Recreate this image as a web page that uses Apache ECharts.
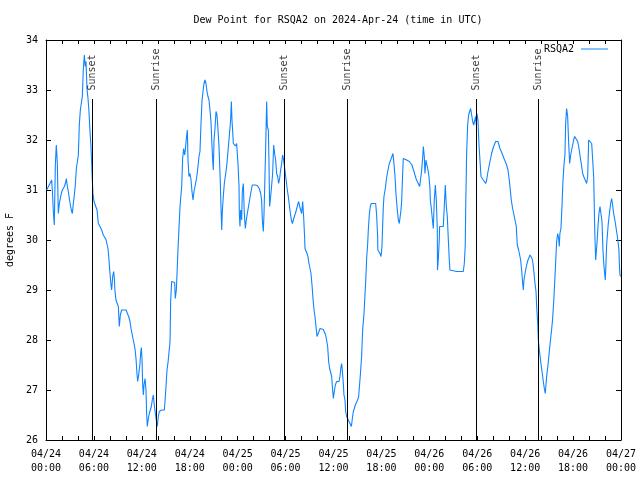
<!DOCTYPE html>
<html>
<head>
<meta charset="utf-8">
<script src="https://cdn.jsdelivr.net/npm/echarts@6/dist/echarts.min.js"></script>
<style>html,body{margin:0;padding:0;background:#fff}#c{width:640px;height:480px}</style>
</head>
<body>
<div id="c"></div>
<script>
// Hours since 2024-04-24 00:00 UTC, dew point in degrees F
const dewPoint = [
[0.08,31.00],[0.29,31.03],[0.50,31.13],[0.71,31.20],[0.79,31.00],[0.92,30.57],[1.04,30.30],[1.17,31.50],[1.29,31.90],[1.42,31.53],
[1.54,30.53],[1.67,30.73],[1.79,30.83],[1.92,30.93],[2.05,31.00],[2.17,31.00],[2.30,31.07],[2.42,31.13],[2.55,31.23],[2.67,31.07],
[2.80,30.97],[2.92,30.83],[3.05,30.70],[3.17,30.60],[3.30,30.53],[3.42,30.73],[3.55,30.90],[3.67,31.10],[3.80,31.43],[3.92,31.47],
[4.05,31.70],[4.17,32.30],[4.30,32.60],[4.42,32.60],[4.55,32.87],[4.67,33.40],[4.80,33.70],[4.92,33.47],[5.01,33.57],[5.13,33.03],
[5.26,32.83],[5.38,32.57],[5.51,32.17],[5.63,31.87],[5.72,31.53],[5.80,31.20],[5.88,30.93],[6.01,30.77],[6.22,30.77],[6.39,30.60],
[6.55,30.33],[6.76,30.27],[6.97,30.20],[7.18,30.10],[7.51,30.01],[7.64,29.97],[7.76,29.83],[7.89,29.60],[8.01,29.33],[8.14,29.10],
[8.22,29.00],[8.35,29.27],[8.47,29.37],[8.56,29.23],[8.64,28.97],[8.76,28.80],[8.93,28.80],[9.06,28.67],[9.14,28.40],[9.18,28.27],
[9.31,28.50],[9.47,28.60],[9.68,28.60],[10.02,28.60],[10.18,28.57],[10.35,28.47],[10.52,28.37],[10.64,28.23],[10.77,28.13],[10.89,28.03],
[11.02,27.93],[11.14,27.83],[11.27,27.63],[11.39,27.33],[11.48,27.17],[11.60,27.30],[11.77,27.53],[11.85,27.73],[11.94,27.85],[12.02,27.63],
[12.10,27.13],[12.19,26.90],[12.27,27.10],[12.40,27.23],[12.52,27.00],[12.60,26.53],[12.69,26.27],[12.81,26.43],[12.94,26.53],[13.06,26.57],
[13.19,26.67],[13.31,26.80],[13.44,26.90],[13.56,26.70],[13.69,26.53],[13.81,26.40],[13.94,26.27],[14.06,26.47],[14.19,26.57],[14.48,26.60],
[14.82,26.60],[14.90,26.77],[15.03,27.07],[15.15,27.40],[15.28,27.55],[15.44,27.55],[15.53,27.97],[15.61,28.77],[15.73,29.17],[15.94,29.17],
[16.11,29.15],[16.19,28.83],[16.32,29.00],[16.40,29.30],[16.49,29.67],[16.61,30.10],[16.78,30.67],[16.99,31.07],[17.11,31.63],[17.24,31.83],
[17.36,31.70],[17.45,31.80],[17.57,32.03],[17.70,32.20],[17.78,31.60],[17.90,31.27],[18.03,31.33],[18.16,31.20],[18.28,30.97],[18.41,30.80],
[18.53,30.97],[18.66,31.07],[18.78,31.17],[18.91,31.30],[19.03,31.47],[19.16,31.67],[19.28,31.77],[19.41,32.33],[19.53,32.77],[19.66,32.97],
[19.78,33.13],[19.91,33.20],[20.03,33.13],[20.16,32.97],[20.28,32.87],[20.41,32.80],[20.53,32.60],[20.66,32.37],[20.78,31.90],[20.87,31.60],
[20.95,31.40],[21.04,32.00],[21.16,32.23],[21.29,32.57],[21.41,32.50],[21.54,32.20],[21.66,31.87],[21.79,31.33],[21.91,30.67],[22.00,30.20],
[22.08,30.57],[22.20,30.87],[22.33,31.13],[22.45,31.13],[22.62,31.47],[22.75,31.70],[22.87,31.73],[23.00,32.17],[23.12,32.40],[23.21,32.77],
[23.29,32.40],[23.46,31.93],[23.58,31.90],[23.71,31.88],[23.87,31.93],[23.96,31.97],[24.04,31.53],[24.17,31.07],[24.21,30.53],[24.29,30.27],
[24.37,30.60],[24.50,30.40],[24.58,30.97],[24.71,31.13],[24.83,30.53],[24.96,30.23],[25.08,30.40],[25.21,30.53],[25.42,30.73],[25.63,30.93],
[25.83,31.10],[26.17,31.10],[26.46,31.09],[26.71,31.03],[26.88,30.93],[27.00,30.80],[27.09,30.40],[27.21,30.17],[27.30,30.53],[27.42,31.30],
[27.50,31.80],[27.63,32.77],[27.71,32.27],[27.84,32.20],[27.92,31.57],[28.00,30.67],[28.13,30.87],[28.26,31.10],[28.38,31.33],[28.51,31.90],
[28.63,31.73],[28.76,31.60],[28.88,31.33],[29.01,31.27],[29.13,31.13],[29.26,31.23],[29.38,31.40],[29.51,31.53],[29.63,31.70],[29.76,31.60],
[29.84,31.50],[29.97,31.33],[30.09,31.17],[30.22,31.00],[30.34,30.87],[30.47,30.70],[30.60,30.53],[30.72,30.40],[30.85,30.33],[30.97,30.37],
[31.10,30.47],[31.22,30.53],[31.35,30.60],[31.51,30.70],[31.64,30.77],[31.76,30.67],[31.89,30.60],[32.01,30.53],[32.14,30.77],[32.26,30.47],
[32.39,30.03],[32.43,29.83],[32.55,29.80],[32.68,29.73],[32.80,29.67],[32.93,29.53],[33.06,29.43],[33.18,29.33],[33.31,29.10],[33.43,28.83],
[33.56,28.60],[33.68,28.47],[33.81,28.27],[33.93,28.07],[34.06,28.10],[34.18,28.17],[34.31,28.23],[34.56,28.25],[34.72,28.21],[34.85,28.17],
[35.02,28.10],[35.14,28.07],[35.27,27.87],[35.39,27.57],[35.52,27.43],[35.64,27.43],[35.77,27.27],[35.89,27.00],[35.98,26.83],[36.10,26.97],
[36.23,27.10],[36.39,27.17],[36.69,27.17],[36.81,27.27],[36.94,27.47],[37.02,27.53],[37.10,27.40],[37.23,27.13],[37.31,26.90],[37.44,26.80],
[37.52,26.57],[37.65,26.47],[37.77,26.43],[37.94,26.37],[38.11,26.33],[38.24,26.27],[38.36,26.43],[38.48,26.57],[38.61,26.63],[38.73,26.70],
[38.86,26.73],[39.02,26.80],[39.15,26.87],[39.27,26.90],[39.36,27.30],[39.52,27.67],[39.65,28.20],[39.82,28.53],[39.94,28.90],[40.07,29.30],
[40.15,29.63],[40.28,29.93],[40.36,30.20],[40.48,30.50],[40.61,30.67],[40.73,30.73],[40.90,30.73],[41.28,30.73],[41.40,30.50],[41.53,30.07],
[41.55,29.80],[41.82,29.73],[41.95,29.67],[42.07,29.87],[42.15,30.27],[42.24,30.67],[42.32,30.87],[42.49,31.03],[42.61,31.20],[42.74,31.33],
[42.86,31.43],[42.99,31.53],[43.16,31.60],[43.32,31.67],[43.45,31.73],[43.57,31.53],[43.70,31.27],[43.82,30.93],[43.99,30.60],[44.12,30.40],
[44.24,30.33],[44.37,30.33],[44.45,30.60],[44.54,30.80],[44.66,31.33],[44.74,31.63],[44.95,31.63],[45.16,31.60],[45.49,31.57],[45.70,31.53],
[45.83,31.50],[45.95,31.43],[46.08,31.37],[46.20,31.30],[46.33,31.23],[46.49,31.17],[46.66,31.13],[46.79,31.07],[46.91,31.03],[47.04,31.40],
[47.16,31.63],[47.25,31.87],[47.37,31.67],[47.45,31.33],[47.58,31.60],[47.70,31.63],[47.83,31.40],[47.95,31.27],[48.08,31.03],[48.12,30.80],
[48.25,30.63],[48.37,30.43],[48.50,30.23],[48.62,30.80],[48.75,31.10],[48.87,30.80],[49.00,30.20],[49.02,29.40],[49.12,29.60],[49.25,30.03],
[49.29,30.27],[49.75,30.27],[49.87,30.67],[50.00,31.10],[50.13,30.67],[50.25,30.47],[50.38,30.00],[50.50,29.60],[50.58,29.40],[50.79,29.37],
[51.42,29.37],[52.25,29.37],[52.38,29.53],[52.50,29.90],[52.55,30.60],[52.67,31.73],[52.80,32.30],[52.92,32.50],[53.05,32.57],[53.17,32.63],
[53.30,32.50],[53.43,32.37],[53.55,32.30],[53.68,32.33],[53.80,32.47],[53.88,32.30],[53.97,32.53],[54.09,32.40],[54.22,31.90],[54.34,31.60],
[54.47,31.27],[54.59,31.23],[54.76,31.20],[54.93,31.17],[55.05,31.13],[55.18,31.20],[55.30,31.33],[55.47,31.47],[55.63,31.60],[55.80,31.73],
[55.97,31.83],[56.13,31.90],[56.30,31.97],[56.47,32.00],[56.59,31.97],[56.72,31.90],[56.84,31.83],[57.01,31.77],[57.18,31.70],[57.35,31.63],
[57.51,31.57],[57.68,31.50],[57.85,31.40],[58.01,31.20],[58.14,31.00],[58.26,30.80],[58.43,30.63],[58.60,30.50],[58.76,30.50],[58.89,30.27],
[59.01,29.90],[59.18,29.80],[59.31,29.70],[59.43,29.60],[59.56,29.40],[59.69,29.13],[59.77,29.00],[59.85,29.20],[59.98,29.33],[60.10,29.43],
[60.23,29.53],[60.35,29.60],[60.48,29.65],[60.61,29.70],[60.73,29.72],[60.86,29.63],[60.98,29.53],[61.11,29.33],[61.23,29.13],[61.36,28.97],
[61.44,28.67],[61.57,28.33],[61.65,28.00],[61.77,27.80],[61.90,27.63],[62.02,27.47],[62.15,27.33],[62.27,27.17],[62.40,27.03],[62.52,26.93],
[62.60,27.10],[62.69,27.27],[62.81,27.43],[62.94,27.63],[63.06,27.83],[63.19,28.03],[63.31,28.20],[63.44,28.43],[63.56,28.73],[63.69,29.13],
[63.81,29.53],[63.94,29.97],[64.07,30.13],[64.19,30.03],[64.27,29.87],[64.35,30.13],[64.48,30.23],[64.61,30.67],[64.73,31.17],[64.86,31.50],
[64.98,31.70],[65.07,32.33],[65.19,32.63],[65.32,32.47],[65.45,31.93],[65.57,31.53],[65.70,31.70],[65.82,31.80],[65.95,31.90],[66.07,32.00],
[66.20,32.07],[66.32,32.10],[66.45,32.03],[66.58,31.97],[66.70,31.87],[66.83,31.73],[66.95,31.60],[67.08,31.47],[67.20,31.33],[67.33,31.27],
[67.45,31.27],[67.58,31.23],[67.70,31.13],[67.83,31.27],[67.95,32.00],[68.08,32.03],[68.20,31.97],[68.33,31.93],[68.45,31.90],[68.58,31.27],
[68.71,30.20],[68.83,29.60],[68.91,29.77],[68.99,29.93],[69.12,30.27],[69.24,30.53],[69.37,30.67],[69.49,30.67],[69.62,30.37],[69.74,29.80],
[69.87,29.47],[69.95,29.33],[70.03,29.20],[70.12,29.53],[70.20,29.90],[70.28,30.07],[70.41,30.33],[70.53,30.50],[70.70,30.73],[70.83,30.83],
[70.95,30.70],[71.08,30.53],[71.20,30.43],[71.33,30.30],[71.45,30.17],[71.58,30.03],[71.74,29.80],[71.79,29.53],[71.87,29.30],[71.99,29.27]
];
const xTickLabels = ['04/24\n00:00','04/24\n06:00','04/24\n12:00','04/24\n18:00','04/25\n00:00','04/25\n06:00','04/25\n12:00',
  '04/25\n18:00','04/26\n00:00','04/26\n06:00','04/26\n12:00','04/26\n18:00','04/27\n00:00'];
const sunEventNames = ['Sunset','Sunrise','Sunset','Sunrise','Sunset','Sunrise'];
const sunEventHours = [5.80, 13.81, 29.84, 37.73, 53.89, 61.65];
const sunLineTop = 32.82;
const sunLabelBase = 32.97;

const FONT = 'DejaVu Sans Mono';
const chart = echarts.init(document.getElementById('c'), null, {renderer: 'canvas'});
const axCommon = {
  min: 0, max: 72, interval: 2, type: 'value'
};
chart.setOption({
  animation: false,
  backgroundColor: '#ffffff',
  textStyle: {fontFamily: FONT},
  title: {
    text: 'Dew Point for RSQA2 on 2024-Apr-24 (time in UTC)',
    left: 333, top: 10, textAlign: 'center',
    textStyle: {fontFamily: FONT, fontSize: 10, fontWeight: 'normal', color: '#000'}
  },
  legend: {
    right: 32, top: 44, align: 'right', itemGap: 0, padding: 0,
    itemWidth: 27, itemHeight: 1,
    data: [{name: 'RSQA2', icon: 'rect'}],
    textStyle: {fontFamily: FONT, fontSize: 10, color: '#000', padding: [0, 2, 0, 0]}
  },
  grid: {left: 46, right: 19, top: 40, bottom: 40, containLabel: false, outerBoundsMode: 'none'},
  xAxis: [
    Object.assign({}, axCommon, {
      position: 'bottom',
      axisLine: {show: true, onZero: false, lineStyle: {color: '#000', width: 1}},
      axisTick: {show: true, inside: true, length: 4, lineStyle: {color: '#000'}},
      axisLabel: {
        color: '#000', fontFamily: FONT, fontSize: 10, lineHeight: 14, margin: 7,
        formatter: function (v) { return v % 6 === 0 ? xTickLabels[v / 6] : ''; }
      },
      splitLine: {show: false}
    }),
    Object.assign({}, axCommon, {
      position: 'top',
      axisLine: {show: true, onZero: false, lineStyle: {color: '#000', width: 1}},
      axisTick: {show: true, inside: true, length: 4, lineStyle: {color: '#000'}},
      axisLabel: {show: false},
      splitLine: {show: false}
    })
  ],
  yAxis: [
    {
      type: 'value', min: 26, max: 34, interval: 1, position: 'left',
      name: 'degrees F', nameLocation: 'middle', nameGap: 31, nameRotate: 90,
      nameTextStyle: {fontFamily: FONT, fontSize: 10, color: '#000'},
      axisLine: {show: true, onZero: false, lineStyle: {color: '#000', width: 1}},
      axisTick: {show: true, inside: true, length: 5, lineStyle: {color: '#000'}},
      axisLabel: {color: '#000', fontFamily: FONT, fontSize: 10, margin: 8},
      splitLine: {show: false}
    },
    {
      type: 'value', min: 26, max: 34, interval: 1, position: 'right',
      axisLine: {show: true, onZero: false, lineStyle: {color: '#000', width: 1}},
      axisTick: {show: true, inside: true, length: 5, lineStyle: {color: '#000'}},
      axisLabel: {show: false},
      splitLine: {show: false}
    }
  ],
  series: [
    {
      name: 'RSQA2', type: 'line', data: dewPoint,
      xAxisIndex: 0, yAxisIndex: 0,
      showSymbol: false, symbol: 'none', smooth: false,
      lineStyle: {color: '#0f84ff', width: 1.1},
      itemStyle: {color: '#0f84ff'},
      z: 3
    },
    {
      name: 'sun', type: 'scatter', xAxisIndex: 0, yAxisIndex: 0,
      symbolSize: 1, itemStyle: {color: 'rgba(0,0,0,0)'},
      data: sunEventHours.map(function (h, i) { return {value: [h, sunLabelBase], name: sunEventNames[i]}; }),
      label: {
        show: true, position: 'inside', rotate: 90, align: 'left', verticalAlign: 'middle',
        offset: [1, 0],
        formatter: function (p) { return p.name; },
        color: '#000', fontFamily: FONT, fontSize: 10
      },
      markLine: {
        silent: true, symbol: ['none', 'none'],
        label: {show: false},
        lineStyle: {color: '#000', width: 1, type: 'solid'},
        data: sunEventHours.map(function (h) { return [{coord: [h, 26]}, {coord: [h, sunLineTop]}]; })
      },
      z: 4
    }
  ]
});
</script>
</body>
</html>
